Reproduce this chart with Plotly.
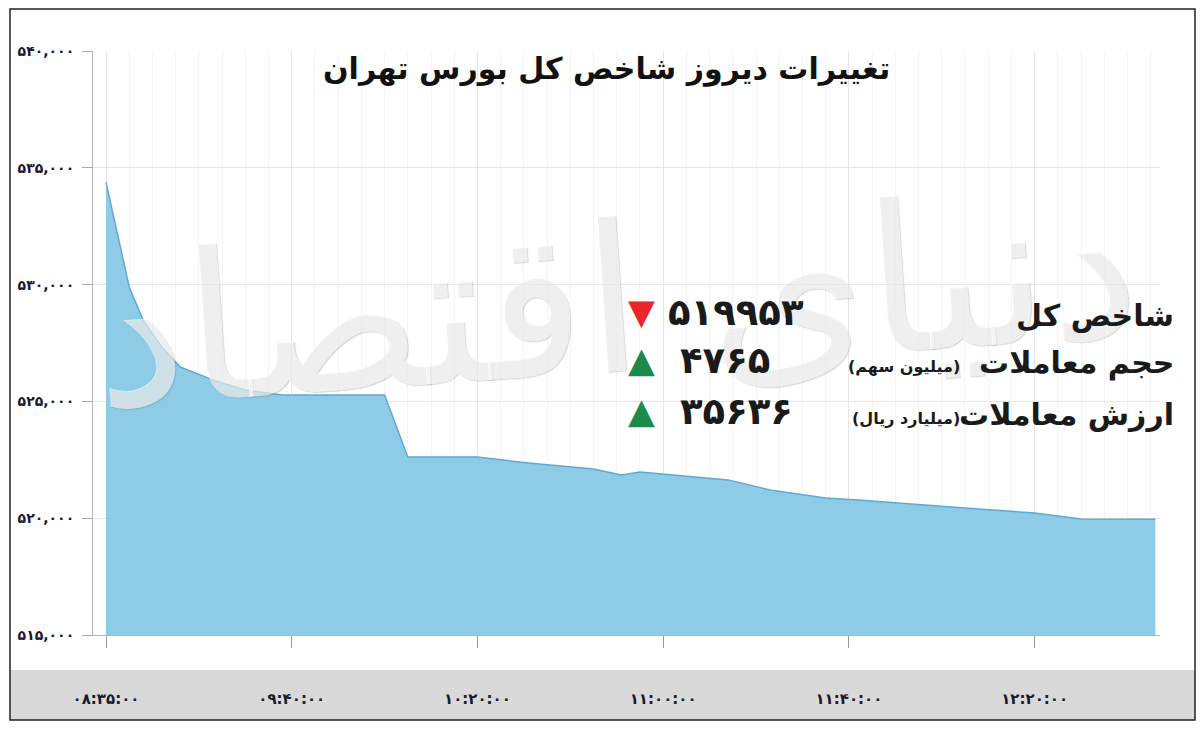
import plotly.graph_objects as go

# ---- data ----
# x positions in chart-minutes along the axis (each labelled tick = 40)
x_pos = [0, 5, 8, 12, 16, 23, 30, 38, 60, 65, 80, 91, 105, 111, 115, 123,
         134, 143, 155, 162, 175, 185, 200, 210, 226]
index_vals = [534390, 529900, 528480, 527330, 526470, 525920, 525490, 525270,
              525270, 522620, 522620, 522360, 522110, 521850, 521980, 521850,
              521640, 521210, 520860, 520780, 520570, 520440, 520220, 519970,
              519953]

x_tick_vals = [0, 40, 80, 120, 160, 200]
x_tick_text = ["۰۸:۳۵:۰۰", "۰۹:۴۰:۰۰", "۱۰:۲۰:۰۰", "۱۱:۰۰:۰۰", "۱۱:۴۰:۰۰", "۱۲:۲۰:۰۰"]
y_tick_vals = [515000, 520000, 525000, 530000, 535000, 540000]
y_tick_text = ["۵۱۵,۰۰۰", "۵۲۰,۰۰۰", "۵۲۵,۰۰۰", "۵۳۰,۰۰۰", "۵۳۵,۰۰۰", "۵۴۰,۰۰۰"]

title_text = "تغییرات دیروز شاخص کل بورس تهران"
row_labels = ["شاخص کل", "حجم معاملات", "ارزش معاملات"]
row_units = ["", "(میلیون سهم)", "(میلیارد ریال)"]
row_values = ["۵۱۹۹۵۳", "۴۷۶۵", "۳۵۶۳۶"]
row_dirs = ["down", "up", "up"]
watermark = "دنیای اقتصاد"

# ---- layout helpers (reference pixel -> paper) ----
# page body has an 8px margin, so the figure spans 8..1196 x 8..724
W, H = 1188, 716
PL, PR, PT, PB = 93, 1160, 51, 635   # plot area in page pixels
ML, MR, MT, MB = PL - 8, 1196 - PR, PT - 8, 724 - PB
PW, PH = PR - PL, PB - PT


def px_x(p):
    return (p - PL) / PW


def px_y(p):
    return (PB - p) / PH


FONT = "DejaVu Sans"

fig = go.Figure()
fig.add_trace(go.Scatter(
    x=x_pos, y=index_vals, mode="lines", fill="tozeroy",
    fillcolor="#8ecbe7", line=dict(color="#62a9cf", width=1.5),
    hoverinfo="skip", showlegend=False,
))

shapes = [
    dict(type="rect", xref="paper", yref="paper",
         x0=px_x(10), x1=px_x(1195), y0=px_y(720), y1=px_y(670),
         fillcolor="#d9d9d9", line=dict(width=0), layer="below"),
    dict(type="rect", xref="paper", yref="paper",
         x0=px_x(10), x1=px_x(1195), y0=px_y(720), y1=px_y(9),
         fillcolor="rgba(0,0,0,0)", line=dict(color="#222", width=1.5)),
]

annotations = [
    dict(text=watermark, xref="paper", yref="paper", x=px_x(615), y=px_y(300),
         xanchor="center", yanchor="middle", showarrow=False, textangle=-4,
         font=dict(family=FONT, size=205, color="rgba(255,255,255,0.6)",
                   shadow="1px 1px 1px rgba(110,110,110,0.45)")),
    dict(text="<b>" + title_text + "</b>", xref="paper", yref="paper",
         x=px_x(606), y=px_y(69), xanchor="center", yanchor="middle",
         showarrow=False, font=dict(family=FONT, size=30, color="#111")),
]

row_y = [312, 360, 411]
num_x = [666, 678, 678]
for i in range(3):
    up = row_dirs[i] == "up"
    annotations.append(dict(
        text="▲" if up else "▼", xref="paper", yref="paper",
        x=px_x(641), y=px_y(row_y[i]), xanchor="center", yanchor="middle",
        showarrow=False,
        font=dict(family=FONT, size=35, color="#1b8a4c" if up else "#e8262c")))
    annotations.append(dict(
        text="<b>" + row_values[i] + "</b>", xref="paper", yref="paper",
        x=px_x(num_x[i]), y=px_y(row_y[i]), xanchor="left", yanchor="middle",
        showarrow=False, font=dict(family=FONT, size=37, color="#1a1a1a")))
    annotations.append(dict(
        text="<b>" + row_labels[i] + "</b>", xref="paper", yref="paper",
        x=px_x(1176), y=px_y(row_y[i] + 3), xanchor="right", yanchor="middle",
        showarrow=False, font=dict(family=FONT, size=30, color="#1a1a1a")))
    if row_units[i]:
        annotations.append(dict(
            text="<b>" + row_units[i] + "</b>", xref="paper", yref="paper",
            x=px_x(962), y=px_y(row_y[i] + 7), xanchor="right", yanchor="middle",
            showarrow=False, font=dict(family=FONT, size=16, color="#1a1a1a")))

fig.update_layout(
    width=W, height=H,
    margin=dict(l=ML, r=MR, t=MT, b=MB, pad=0, autoexpand=False),
    paper_bgcolor="white", plot_bgcolor="white",
    shapes=shapes, annotations=annotations, showlegend=False,
    xaxis=dict(
        range=[-2.8, 227], tickmode="array", tickvals=x_tick_vals,
        ticktext=x_tick_text, ticks="outside", ticklen=12, tickcolor="#9a9a9a",
        showline=True, linecolor="#b5b5b5", linewidth=1,
        showgrid=True, gridcolor="#e6e6e6", zeroline=False, automargin=False,
        minor=dict(tickmode="linear", tick0=0, dtick=5, showgrid=True,
                   gridcolor="#f4f4f4", ticks=""),
        tickfont=dict(family=FONT, size=15, color="#1a1a2e", weight="bold"),
        ticklabelstandoff=38, fixedrange=True,
    ),
    yaxis=dict(
        range=[515000, 540000], tickmode="array", tickvals=y_tick_vals,
        ticktext=y_tick_text, ticks="outside", ticklen=10, tickcolor="#a8a8a8",
        showline=True, linecolor="#b5b5b5", linewidth=1,
        showgrid=True, gridcolor="#e6e6e6", zeroline=False, automargin=False,
        tickfont=dict(family=FONT, size=14, color="#1a1a2e", weight="bold"),
        ticklabelstandoff=5, fixedrange=True,
    ),
)

fig.write_html("out.html")
